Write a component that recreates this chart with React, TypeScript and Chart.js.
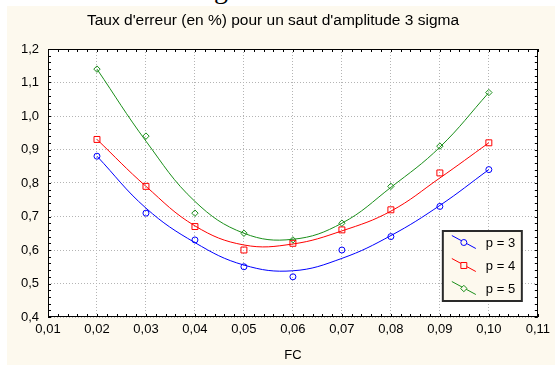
import { useEffect, useRef } from 'react';
import { Chart, registerables } from 'chart.js';
import { drawPoint } from 'chart.js/helpers';

Chart.register(...registerables);

// ---- data ----
const fcValues = [0.02, 0.03, 0.04, 0.05, 0.06, 0.07, 0.08, 0.09, 0.1];
const seriesLabels = ['p = 3', 'p = 4', 'p = 5'];

// observed points
const p3Points = [0.88, 0.71, 0.63, 0.55, 0.52, 0.6, 0.64, 0.73, 0.84];
const p4Points = [0.93, 0.79, 0.67, 0.6, 0.62, 0.66, 0.72, 0.83, 0.92];
const p5Points = [1.14, 0.94, 0.71, 0.65, 0.63, 0.68, 0.79, 0.91, 1.07];

// fitted curves
const p3Curve = [0.88, 0.725, 0.622, 0.555, 0.538, 0.575, 0.643, 0.733, 0.84];
const p4Curve = [0.93, 0.79, 0.672, 0.615, 0.618, 0.657, 0.716, 0.815, 0.92];
const p5Curve = [1.14, 0.925, 0.745, 0.65, 0.632, 0.68, 0.787, 0.907, 1.07];

const xTickValues = [0.01, 0.02, 0.03, 0.04, 0.05, 0.06, 0.07, 0.08, 0.09, 0.1, 0.11];
const xTickLabels = ['0,01', '0,02', '0,03', '0,04', '0,05', '0,06', '0,07', '0,08', '0,09', '0,10', '0,11'];
const yTickValues = [0.4, 0.5, 0.6, 0.7, 0.8, 0.9, 1.0, 1.1, 1.2];
const yTickLabels = ['0,4', '0,5', '0,6', '0,7', '0,8', '0,9', '1,0', '1,1', '1,2'];

const titleText = "Taux d'erreur (en %) pour un saut d'amplitude 3 sigma";
const xTitle = 'FC';

const FONT = '"Liberation Sans", Arial, Helvetica, sans-serif';
const CREAM = '#fdf9ee';

export default function App() {
  const ref = useRef<HTMLCanvasElement | null>(null);

  useEffect(() => {
    const canvas = ref.current;
    if (!canvas) return;

    const colors = ['#0000ff', '#ff0000', '#1a8f1a'];
    const styles = ['circle', 'rect', 'rectRot'];
    const radii = [3, 4.2, 3.2];
    const curves = [p3Curve, p4Curve, p5Curve];
    const points = [p3Points, p4Points, p5Points];

    const datasets: any[] = [];
    curves.forEach((c, i) => {
      datasets.push({
        label: '_curve' + i,
        data: fcValues.map((x, j) => ({ x, y: c[j] })),
        showLine: true,
        borderColor: colors[i],
        borderWidth: 1,
        pointRadius: 0,
        pointHoverRadius: 0,
        tension: 0.4,
        fill: false,
      });
    });
    points.forEach((p, i) => {
      datasets.push({
        label: seriesLabels[i],
        isMarker: true,
        data: fcValues.map((x, j) => ({ x, y: p[j] })),
        showLine: false,
        borderColor: colors[i],
        backgroundColor: 'rgba(0,0,0,0)',
        pointStyle: styles[i],
        pointRadius: radii[i],
        pointBorderWidth: 1,
      });
    });

    const framePlugin = {
      id: 'frameAndLegend',
      beforeDraw(chart: any) {
        const { ctx, chartArea: a } = chart;
        ctx.save();
        ctx.fillStyle = '#ffffff';
        ctx.fillRect(a.left, a.top, a.right - a.left, a.bottom - a.top);
        ctx.restore();
      },
      afterDraw(chart: any) {
        const { ctx, chartArea: a, scales } = chart;
        const xs = scales.x;
        const ys = scales.y;
        ctx.save();
        // frame
        ctx.strokeStyle = '#000000';
        ctx.lineWidth = 1;
        ctx.strokeRect(Math.round(a.left) + 0.5, Math.round(a.top) + 0.5,
          Math.round(a.right - a.left) - 1, Math.round(a.bottom - a.top) - 1);
        // minor ticks, inside
        const tl = 3;
        ctx.beginPath();
        for (let k = 0; k <= 50; k++) {
          const v = 0.01 + k * 0.002;
          const px = Math.round(xs.getPixelForValue(v)) + 0.5;
          ctx.moveTo(px, a.bottom);
          ctx.lineTo(px, a.bottom - tl);
          ctx.moveTo(px, a.top);
          ctx.lineTo(px, a.top + tl);
        }
        for (let k = 0; k <= 40; k++) {
          const v = 0.4 + k * 0.02;
          const py = Math.round(ys.getPixelForValue(v)) + 0.5;
          ctx.moveTo(a.left, py);
          ctx.lineTo(a.left + tl, py);
          ctx.moveTo(a.right, py);
          ctx.lineTo(a.right - tl, py);
        }
        ctx.stroke();

        // legend box
        const bw = 79;
        const bh = 70;
        const bx = a.right - 16 - bw;
        const by = a.bottom - 16 - bh;
        ctx.fillStyle = CREAM;
        ctx.fillRect(bx, by, bw, bh);
        ctx.strokeStyle = '#2a2a2a';
        ctx.lineWidth = 2;
        ctx.strokeRect(bx, by, bw, bh);

        const markerSets = chart.data.datasets.filter((d: any) => d.isMarker);
        ctx.font = '13px ' + FONT;
        ctx.textBaseline = 'middle';
        ctx.textAlign = 'left';
        markerSets.forEach((d: any, i: number) => {
          const cy = by + 12 + i * 23;
          const mx = bx + 21;
          const my = cy - 0.5;
          ctx.strokeStyle = d.borderColor;
          ctx.lineWidth = 1;
          ctx.beginPath();
          ctx.moveTo(mx - 12, my - 7);
          ctx.lineTo(mx + 12, my + 6);
          ctx.stroke();
          ctx.fillStyle = CREAM;
          drawPoint(ctx, { pointStyle: d.pointStyle, radius: d.pointRadius, borderWidth: 1, rotation: 0 } as any, mx, my);
          ctx.fillStyle = '#000000';
          ctx.fillText(d.label, bx + 43, cy + 0.5);
        });
        ctx.restore();
      },
    };

    const chart = new Chart(canvas, {
      type: 'scatter',
      data: { datasets },
      plugins: [framePlugin],
      options: {
        animation: false,
        responsive: false,
        events: [],
        layout: { padding: { left: 0, right: 16, top: 0, bottom: 0 } },
        plugins: {
          legend: { display: false },
          tooltip: { enabled: false },
          title: {
            display: true,
            text: titleText,
            color: '#000000',
            font: { family: FONT, size: 15.5, weight: 'normal' },
            padding: { top: 5.7, bottom: 18.7 },
          },
        },
        scales: {
          x: {
            type: 'linear',
            min: 0.01,
            max: 0.11,
            afterBuildTicks: (s: any) => {
              s.ticks = xTickValues.map((v) => ({ value: v }));
            },
            afterFit: (s: any) => {
              s.height = 48;
            },
            ticks: {
              callback: (_v: any, i: number) => xTickLabels[i],
              color: '#000000',
              font: { family: FONT, size: 13 },
              padding: 5,
              maxRotation: 0,
              autoSkip: false,
            },
            grid: { color: '#b4b4b4', lineWidth: 1, drawTicks: false, borderDash: [1, 2] } as any,
            border: { display: false, dash: [1, 2] },
            title: {
              display: true,
              text: xTitle,
              color: '#000000',
              font: { family: FONT, size: 13 },
              padding: { top: 0, bottom: 2.2 },
            },
          },
          y: {
            type: 'linear',
            min: 0.4,
            max: 1.2,
            afterBuildTicks: (s: any) => {
              s.ticks = yTickValues.map((v) => ({ value: v }));
            },
            afterFit: (s: any) => {
              s.width = 41;
            },
            ticks: {
              callback: (_v: any, i: number) => yTickLabels[i],
              color: '#000000',
              font: { family: FONT, size: 13 },
              padding: 9,
              autoSkip: false,
            },
            grid: { color: '#b4b4b4', lineWidth: 1, drawTicks: false, borderDash: [1, 2] } as any,
            border: { display: false, dash: [1, 2] },
          },
        },
      } as any,
    });

    return () => chart.destroy();
  }, []);

  return (
    <>
      <div
        style={{
          position: 'absolute',
          left: 214,
          top: -25,
          fontFamily: '"Liberation Serif", "Times New Roman", serif',
          fontSize: 28,
          lineHeight: '28px',
          color: '#000',
        }}
      >
        g
      </div>
      <div
        style={{
          position: 'absolute',
          left: 7,
          top: 6,
          width: 548,
          height: 359,
          background: CREAM,
        }}
      >
        <canvas ref={ref} width={548} height={359} style={{ display: 'block' }} />
      </div>
    </>
  );
}
